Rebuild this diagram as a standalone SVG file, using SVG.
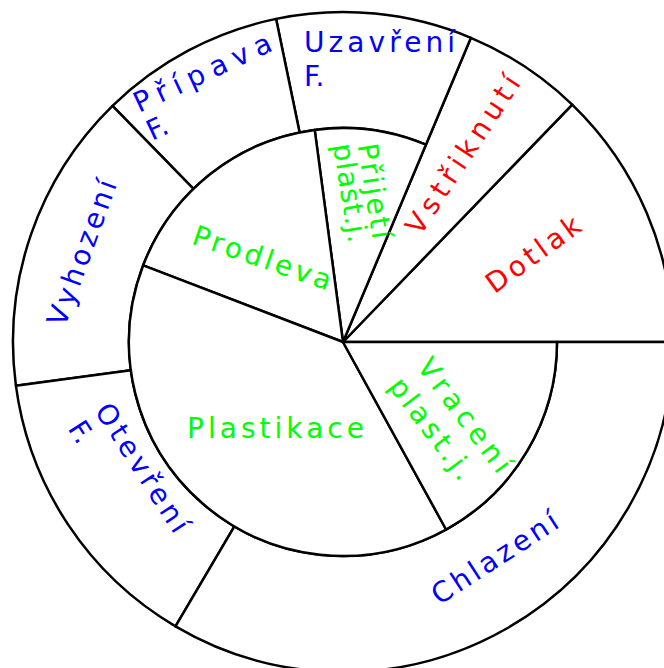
<svg xmlns="http://www.w3.org/2000/svg" width="664" height="668" viewBox="0 0 664 668">
<style>
.sec{fill:#fff;stroke:#000;stroke-width:2.5;stroke-linejoin:round}
.lbl{font-family:"DejaVu Sans",sans-serif;font-size:28px}
.b{fill:#0000ff}.g{fill:#00ff00}.r{fill:#ff0000}
.m{text-anchor:middle}
</style>
<rect width="664" height="668" fill="#fff"/>
<g id="dotlak">
<path class="sec" d="M343,342 L673,342 A330,330 0 0 0 572.2,104.6 Z"/>
<text class="lbl r m" transform="translate(539,262) rotate(-36)" textLength="110" lengthAdjust="spacing">Dotlak</text>
</g>
<g id="vstriknuti">
<path class="sec" d="M343,342 L572.2,104.6 A330,330 0 0 0 470.9,37.8 Z"/>
<text class="lbl r m" transform="translate(471,160) rotate(-56.6)" textLength="184" lengthAdjust="spacing">Vstřiknutí</text>
</g>
<g id="uzavreni">
<path class="sec" d="M425.9,144.7 L470.9,37.8 A330,330 0 0 0 276.1,18.9 L299.6,132.5 A214,214 0 0 1 425.9,144.7 Z"/>
<text class="lbl b" x="304" y="52" textLength="151" lengthAdjust="spacing">Uzavření</text>
<text class="lbl b" x="304" y="86">F.</text>
</g>
<g id="priprava">
<path class="sec" d="M299.6,132.5 L276.1,18.9 A330,330 0 0 0 112.5,105.8 L193.5,188.8 A214,214 0 0 1 299.6,132.5 Z"/>
<text class="lbl b" transform="translate(139,113) rotate(-25)" textLength="149" lengthAdjust="spacing">Přípava</text>
<text class="lbl b" transform="translate(139,113) rotate(-25)" x="0" y="31">F.</text>
</g>
<g id="vyhozeni">
<path class="sec" d="M193.5,188.8 L112.5,105.8 A330,330 0 0 0 15.9,385.7 L130.9,370.3 A214,214 0 0 1 193.5,188.8 Z"/>
<text class="lbl b m" transform="translate(91,256) rotate(-70)" textLength="153" lengthAdjust="spacing">Vyhození</text>
</g>
<g id="otevreni">
<path class="sec" d="M130.9,370.3 L15.9,385.7 A330,330 0 0 0 175.5,626.3 L234.4,526.4 A214,214 0 0 1 130.9,370.3 Z"/>
<text class="lbl b" transform="translate(94,411) rotate(57)" textLength="148" lengthAdjust="spacing">Otevření</text>
<text class="lbl b" transform="translate(94,411) rotate(57)" x="0" y="32">F.</text>
</g>
<g id="chlazeni">
<path class="sec" d="M234.4,526.4 L175.5,626.3 A330,330 0 0 0 673,342 L557,342 A214,214 0 0 1 234.4,526.4 Z"/>
<text class="lbl b m" transform="translate(500,566) rotate(-33)" textLength="145" lengthAdjust="spacing">Chlazení</text>
</g>
<g id="prijeti">
<path class="sec" d="M343,342 L425.9,144.7 A214,214 0 0 0 314.7,129.9 Z"/>
<text class="lbl g" transform="translate(357.6,145) rotate(81)" textLength="96" lengthAdjust="spacing">Přijetí</text>
<text class="lbl g" transform="translate(357.6,145) rotate(81)" x="-3.8" y="24.3" textLength="100" lengthAdjust="spacing">plast.j.</text>
</g>
<g id="prodleva">
<path class="sec" d="M343,342 L314.7,129.9 A214,214 0 0 0 143.2,265.3 Z"/>
<text class="lbl g m" transform="translate(259,267) rotate(19)" textLength="145" lengthAdjust="spacing">Prodleva</text>
</g>
<g id="plastikace">
<path class="sec" d="M343,342 L143.2,265.3 A214,214 0 0 0 446.1,529.5 Z"/>
<text class="lbl g m" x="275.5" y="437.5" textLength="177" lengthAdjust="spacing">Plastikace</text>
</g>
<g id="vraceni">
<path class="sec" d="M343,342 L446.1,529.5 A214,214 0 0 0 557,342 Z"/>
<text class="lbl g m" transform="translate(457,421) rotate(53)" textLength="136" lengthAdjust="spacing">Vracení</text>
<text class="lbl g m" transform="translate(457,421) rotate(53)" x="-9.3" y="34.6" textLength="120" lengthAdjust="spacing">plast.j.</text>
</g>
</svg>
